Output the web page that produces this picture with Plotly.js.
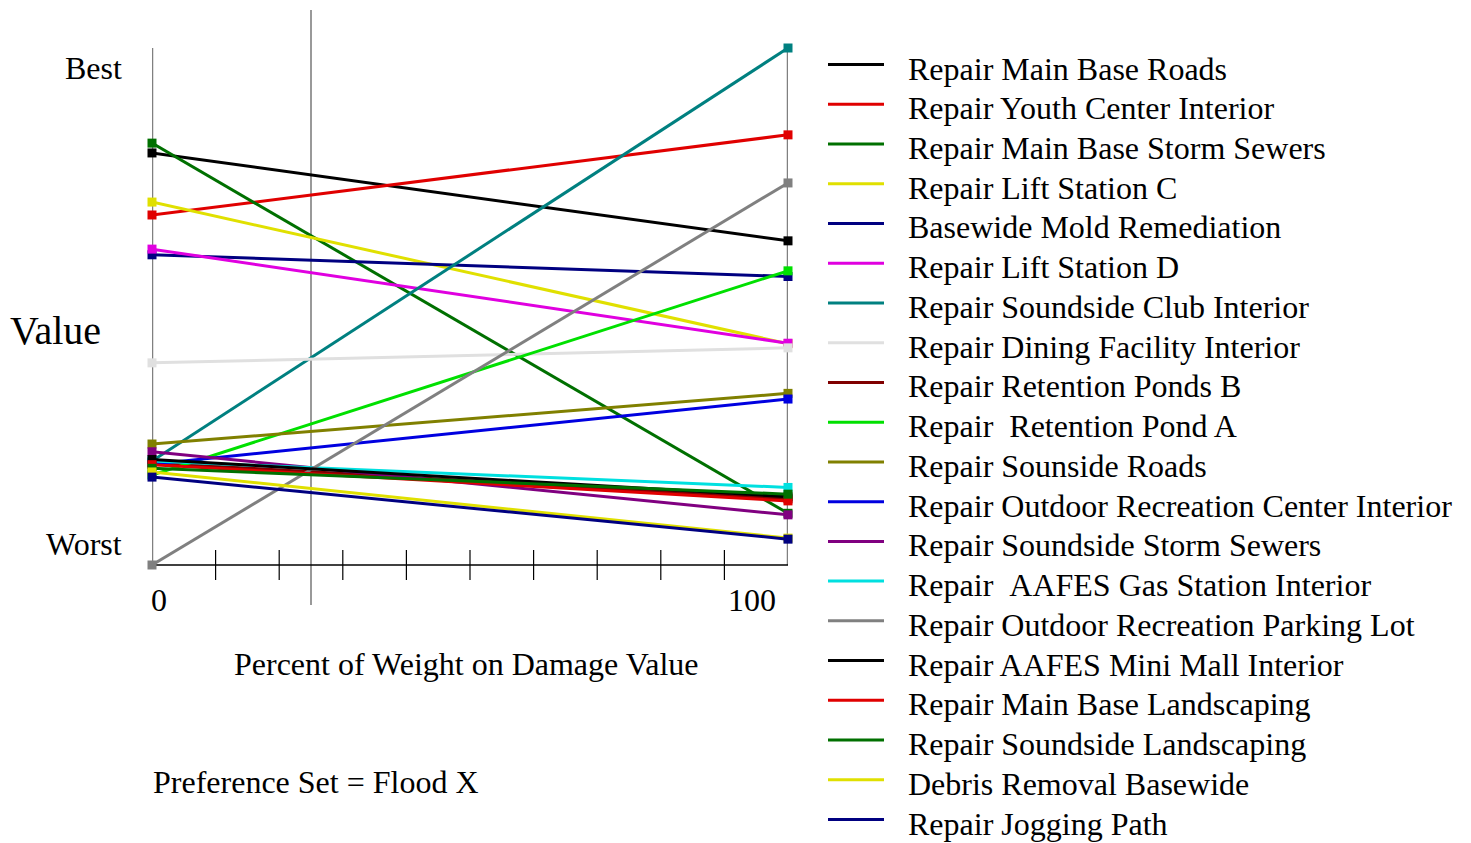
<!DOCTYPE html>
<html>
<head>
<meta charset="utf-8">
<script src="https://cdn.plot.ly/plotly-3.0.1.min.js"></script>
<style>html,body{margin:0;padding:0;background:#fff;}#chart{width:1471px;height:843px;}</style>
</head>
<body>
<div id="chart"></div>
<script>
// ---- data ----
var seriesNames = [
  "Repair Main Base Roads",
  "Repair Youth Center Interior",
  "Repair Main Base Storm Sewers",
  "Repair Lift Station C",
  "Basewide Mold Remediation",
  "Repair Lift Station D",
  "Repair Soundside Club Interior",
  "Repair Dining Facility Interior",
  "Repair Retention Ponds B",
  "Repair  Retention Pond A",
  "Repair Sounside Roads",
  "Repair Outdoor Recreation Center Interior",
  "Repair Soundside Storm Sewers",
  "Repair  AAFES Gas Station Interior",
  "Repair Outdoor Recreation Parking Lot",
  "Repair AAFES Mini Mall Interior",
  "Repair Main Base Landscaping",
  "Repair Soundside Landscaping",
  "Debris Removal Basewide",
  "Repair Jogging Path"
];
var seriesColors = [
  "#000000", "#e00000", "#007000", "#e0e000", "#000080",
  "#e000e0", "#008080", "#e0e0e0", "#800000", "#00e000",
  "#808000", "#0000e0", "#800080", "#00e0e0", "#808080",
  "#000000", "#e00000", "#007000", "#e0e000", "#000080"
];
var weightPoints = [0, 100];           // percent of weight on damage value
var valueAtZero = [79.7, 67.7, 81.6, 70.2, 60.0, 61.1, 20.1, 39.1, 19.8, 17.4,
                   23.4, 19.5, 21.9, 20.1, 0.0, 20.4, 19.4, 18.7, 18.0, 17.0];
var valueAtHundred = [62.7, 83.2, 10.0, 42.8, 55.8, 42.9, 100.0, 42.0, 12.8, 56.9,
                      33.2, 32.1, 9.7, 15.0, 73.9, 13.2, 12.4, 13.7, 5.2, 5.0];
var xTicks = [10, 20, 30, 40, 50, 60, 70, 80, 90];
var markerWeight = 25;
var xTickLabels = ["0", "100"];
var yLabels = ["Best", "Worst"];
var xTitle = "Percent of Weight on Damage Value";
var yTitle = "Value";
var footnote = "Preference Set = Flood X";

// ---- layout helpers (pixel geometry) ----
var L = 152, R = 788, T = 10, B = 605;
function px(x) { return (x - L) / (R - L); }
function py(y) { return (B - y) / (B - T); }
var FONT = "Liberation Serif, Times New Roman, serif";

var traces = seriesNames.map(function (n, i) {
  return {
    type: "scatter", mode: "lines+markers", name: n,
    x: weightPoints, y: [valueAtZero[i], valueAtHundred[i]],
    line: { color: seriesColors[i], width: 3 },
    marker: { symbol: "square", size: 9, color: seriesColors[i] },
    cliponaxis: false, showlegend: false, hoverinfo: "name+y"
  };
});

var shapes = [];
var annotations = [];
// frame lines
shapes.push({ type: "line", xref: "x", yref: "y", x0: 0, x1: 0, y0: 0, y1: 100, line: { color: "#808080", width: 2.5 }, layer: "below" });
shapes.push({ type: "line", xref: "x", yref: "y", x0: 100, x1: 100, y0: 0, y1: 100, line: { color: "#808080", width: 2.5 }, layer: "below" });
shapes.push({ type: "line", xref: "x", yref: "y", x0: 0, x1: 100, y0: 0, y1: 0, line: { color: "#000000", width: 1.3 }, layer: "below" });
xTicks.forEach(function (t) {
  shapes.push({ type: "line", xref: "x", yref: "paper", x0: t, x1: t, y0: py(580), y1: py(550), line: { color: "#000000", width: 1.2 }, layer: "below" });
});
shapes.push({ type: "line", xref: "x", yref: "paper", x0: markerWeight, x1: markerWeight, y0: 0, y1: 1, line: { color: "#555555", width: 1.2 }, layer: "below" });

// axis texts
annotations.push({ xref: "paper", yref: "paper", x: px(159), y: py(600), text: xTickLabels[0], showarrow: false, xanchor: "center", yanchor: "middle", font: { family: FONT, size: 32, color: "#000" } });
annotations.push({ xref: "paper", yref: "paper", x: px(752), y: py(600), text: xTickLabels[1], showarrow: false, xanchor: "center", yanchor: "middle", font: { family: FONT, size: 32, color: "#000" } });
annotations.push({ xref: "paper", yref: "paper", x: px(124), y: py(68), text: yLabels[0], showarrow: false, xanchor: "right", yanchor: "middle", font: { family: FONT, size: 32, color: "#000" } });
annotations.push({ xref: "paper", yref: "paper", x: px(124), y: py(544), text: yLabels[1], showarrow: false, xanchor: "right", yanchor: "middle", font: { family: FONT, size: 32, color: "#000" } });
annotations.push({ xref: "paper", yref: "paper", x: px(8), y: py(330), text: yTitle, showarrow: false, xanchor: "left", yanchor: "middle", font: { family: FONT, size: 40, color: "#000" } });
annotations.push({ xref: "paper", yref: "paper", x: px(466), y: py(664), text: xTitle, showarrow: false, xanchor: "center", yanchor: "middle", font: { family: FONT, size: 32, color: "#000" } });
annotations.push({ xref: "paper", yref: "paper", x: px(151), y: py(782), text: footnote, showarrow: false, xanchor: "left", yanchor: "middle", font: { family: FONT, size: 32, color: "#000" } });

// custom legend
seriesNames.forEach(function (n, i) {
  var yLine = 64.5 + i * 39.74;
  shapes.push({ type: "line", xref: "paper", yref: "paper", x0: px(828), x1: px(884), y0: py(yLine), y1: py(yLine), line: { color: seriesColors[i], width: 3 } });
  annotations.push({ xref: "paper", yref: "paper", x: px(906), y: py(yLine + 4), text: n.replace(/  /g, " &nbsp;"), showarrow: false, xanchor: "left", yanchor: "middle", font: { family: FONT, size: 32, color: "#000" } });
});

var layout = {
  width: 1471, height: 843,
  margin: { l: L, r: 1471 - R, t: T, b: 843 - B, pad: 0 },
  paper_bgcolor: "#ffffff", plot_bgcolor: "#ffffff",
  showlegend: false,
  xaxis: { range: [0, 100], showgrid: false, zeroline: false, showline: false, showticklabels: false, ticks: "", fixedrange: true },
  yaxis: { range: [(565 - 605) / 5.17, (565 - 10) / 5.17], showgrid: false, zeroline: false, showline: false, showticklabels: false, ticks: "", fixedrange: true },
  shapes: shapes,
  annotations: annotations
};

Plotly.newPlot("chart", traces, layout, { displayModeBar: false, staticPlot: true });
</script>
</body>
</html>
